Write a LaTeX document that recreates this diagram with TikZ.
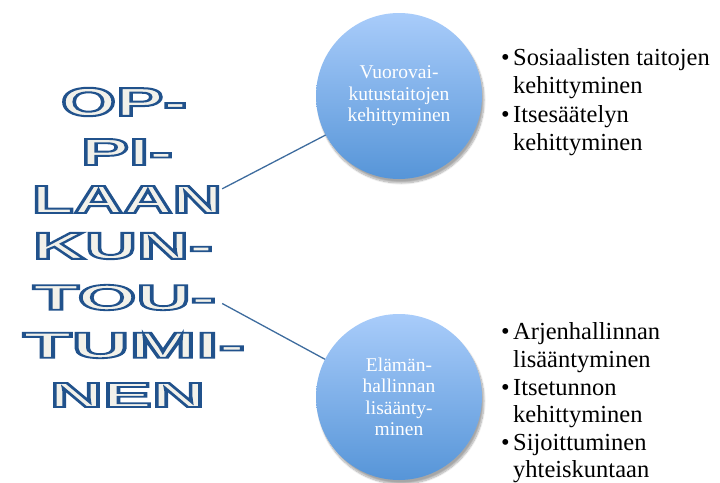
\documentclass[tikz,border=0pt]{standalone}
\usepackage{fontspec}
\setmainfont{Liberation Serif}
\newfontfamily\wafont{Liberation Sans}
\usetikzlibrary{shadows.blur,calc}
\definecolor{bubTop}{HTML}{A9CCFA}
\definecolor{bubBot}{HTML}{5695D8}
\definecolor{linkcol}{HTML}{3E6C9E}
\definecolor{wafill}{HTML}{F2F1EA}
\newcommand\waoutline[1]{\special{pdf:literal direct 2 Tr 1.9 w 0.13 0.32 0.55 RG}#1\special{pdf:literal direct 0 Tr}}
\newcommand\waword[3]{\resizebox{#1pt}{#2pt}{\wafont\bfseries\fontsize{38}{38}\selectfont #3}}
\newcommand\bul{\makebox[12pt][l]{•}}
\newcommand\ind{\hspace*{12pt}}
\tikzset{
  bubble/.style={circle, minimum size=166pt, inner sep=0pt, top color=bubTop, bottom color=bubBot,
    blur shadow={shadow xshift=2pt, shadow yshift=-4pt, shadow blur steps=10, shadow opacity=35},
    text=white, align=center, font=\fontsize{19.5}{21.5}\selectfont},
  link/.style={draw=linkcol, line width=1.3pt},
  listline/.style={anchor=base west, inner sep=0pt, font=\fontsize{24.5}{28}\selectfont, text=black},
  wordart/.style={inner sep=0pt, text=wafill}
}
\begin{document}
\begin{tikzpicture}[x=1pt,y=-1pt]
\useasboundingbox (0,0) rectangle (720,482);
% word art column
\foreach \nm/\cx/\cy/\w/\h/\t in {op/124/102/126/28/OP-, pi/127/152/92/26/PI-, laan/127/199.5/190/27/LAAN, kun/123/246/180/26/KUN-, tou/124.5/297.5/183/25/TOU-, tumi/134/345.5/222/25/TUMI-, nen/127.5/395/155/24/NEN}{
  \node[wordart] (\nm) at (\cx,\cy) {\waoutline{\waword{\w}{\h}{\t}}};
}
% bubbles
\node[bubble] (c1) at (399,96) {Vuorovai-\\kutustaitojen\\kehittyminen};
\node[bubble] (c2) at (399,397) {Elämän-\\hallinnan\\lisäänty-\\minen};
% connectors
\draw[link] ($(laan.north east)+(0,3)$) -- (c1.208);
\draw[link] ($(tou.east)+(6,6)$) -- (c2.153);
% lists
\node[listline] (a1) at (501,65) {\bul Sosiaalisten taitojen};
\node[listline] (a2) at (501,93) {\ind kehittyminen};
\node[listline] (a3) at (501,122) {\bul Itsesäätelyn};
\node[listline] (a4) at (501,150) {\ind kehittyminen};
\node[listline] (b1) at (501,339) {\bul Arjenhallinnan};
\node[listline] (b2) at (501,367) {\ind lisääntyminen};
\node[listline] (b3) at (501,395) {\bul Itsetunnon};
\node[listline] (b4) at (501,422) {\ind kehittyminen};
\node[listline] (b5) at (501,450) {\bul Sijoittuminen};
\node[listline] (b6) at (501,477) {\ind yhteiskuntaan};
\end{tikzpicture}
\end{document}
